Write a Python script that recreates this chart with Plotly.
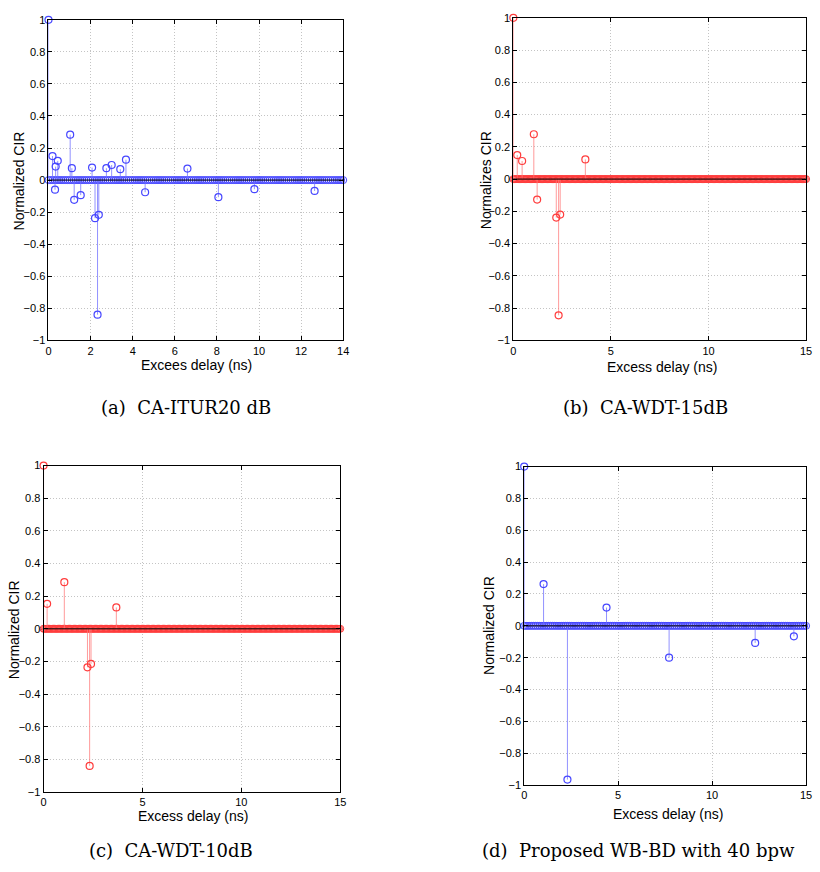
import plotly.graph_objects as go

W, H = 820, 872

# ---------------- data ----------------
# (a) CA-ITUR20 dB
a_delay = [0.0, 0.19, 0.31, 0.34, 0.44, 1.03, 1.11, 1.22, 1.53, 2.07, 2.21, 2.33,
           2.39, 2.75, 3.00, 3.41, 3.68, 4.59, 6.60, 8.07, 9.78, 12.64]
a_cir = [1.0, 0.150, -0.060, 0.084, 0.120, 0.283, 0.074, -0.123, -0.094, 0.078,
         -0.238, -0.840, -0.217, 0.074, 0.094, 0.068, 0.127, -0.076, 0.072,
         -0.107, -0.057, -0.068]

# (b) CA-WDT-15dB
b_delay = [0.0, 0.20, 0.45, 1.05, 1.22, 2.20, 2.32, 2.40, 3.69]
b_cir = [1.0, 0.149, 0.112, 0.278, -0.127, -0.239, -0.845, -0.220, 0.122]

# (c) CA-WDT-10dB
c_delay = [0.0, 0.18, 1.05, 2.22, 2.33, 2.40, 3.68]
c_cir = [1.0, 0.153, 0.286, -0.236, -0.840, -0.215, 0.131]

# (d) Proposed WB-BD with 40 bpw
d_delay = [0.0, 1.03, 2.30, 4.38, 7.71, 12.29, 14.35]
d_cir = [1.0, 0.262, -0.965, 0.115, -0.200, -0.107, -0.066]

# sampling grid of the (zero-valued) taps: (period ns, last delay ns)
a_grid = (0.1, 14.0)
b_grid = (0.0625, 15.0)
c_grid = (0.0625, 15.0)
d_grid = (0.1, 15.0)

y_ticks = [-1, -0.8, -0.6, -0.4, -0.2, 0, 0.2, 0.4, 0.6, 0.8, 1]
y_ticklabels = ["\u22121", "\u22120.8", "\u22120.6", "\u22120.4", "\u22120.2", "0",
                "0.2", "0.4", "0.6", "0.8", "1"]
a_xticks = [0, 2, 4, 6, 8, 10, 12, 14]
bcd_xticks = [0, 5, 10, 15]

captions = ["(a)  CA-ITUR20 dB", "(b)  CA-WDT-15dB", "(c)  CA-WDT-10dB",
            "(d)  Proposed WB-BD with 40 bpw"]
x_titles = ["Excees delay (ns)", "Excess delay (ns)", "Excess delay (ns)", "Excess delay (ns)"]
y_titles = ["Normalized CIR", "Normalizes CIR", "Normalized CIR", "Normalized CIR"]

# ---------------- layout geometry (pixels) ----------------
BLUE_M = "rgb(70,70,255)"
BLUE_S = "rgba(110,110,255,0.75)"
RED_M = "rgb(255,60,60)"
RED_S = "rgba(255,120,120,0.75)"

panels = [
    dict(delay=a_delay, cir=a_cir, grid=a_grid, xt=a_xticks, xr=[0, 14],
         box=(46, 344, 14, 339), mc=BLUE_M, sc=BLUE_S,
         yt=(16, 177), xtl=(196, 364), cap=(185, 407)),
    dict(delay=b_delay, cir=b_cir, grid=b_grid, xt=bcd_xticks, xr=[0, 15],
         box=(516, 812, 12, 339), mc=RED_M, sc=RED_S,
         yt=(488, 177), xtl=(666, 366), cap=(650, 407)),
    dict(delay=c_delay, cir=c_cir, grid=c_grid, xt=bcd_xticks, xr=[0, 15],
         box=(41, 341, 466, 797), mc=RED_M, sc=RED_S,
         yt=(11, 632), xtl=(192, 821), cap=(170, 856)),
    dict(delay=d_delay, cir=d_cir, grid=d_grid, xt=bcd_xticks, xr=[0, 15],
         box=(527, 812, 467, 790), mc=BLUE_M, sc=BLUE_S,
         yt=(492, 628), xtl=(672, 819), cap=(643, 856)),
]

TICK_FONT = dict(family="Liberation Sans Narrow, Arial Narrow, Liberation Sans, Arial",
                 size=11, color="black")
TITLE_FONT = dict(family="Liberation Sans Narrow, Arial Narrow, Liberation Sans, Arial",
                  size=14, color="black")
YTITLE_FONT = dict(family="Liberation Sans, Arial", size=14, color="black")
CAP_FONT = dict(family="DejaVu Serif, Liberation Serif, serif", size=18, color="black")

fig = go.Figure()
annotations = []
shapes = []

for i, p in enumerate(panels):
    k = "" if i == 0 else str(i + 1)
    xa, ya = "x" + k, "y" + k
    l, r, t, b = p["box"]

    # zero-valued taps on the sampling grid
    period, last = p["grid"]
    n = int(round(last / period)) + 1
    gx = [j * period for j in range(n)]
    gy = [0.0] * n
    fig.add_trace(go.Scatter(x=gx, y=gy, mode="markers", xaxis=xa, yaxis=ya,
                             marker=dict(symbol="circle-open", size=7, color=p["mc"],
                                         line=dict(width=1, color=p["mc"])),
                             showlegend=False, hoverinfo="skip", cliponaxis=False))

    # stems
    sx, sy = [], []
    for dx, v in zip(p["delay"], p["cir"]):
        sx += [dx, dx, None]
        sy += [0, v, None]
    fig.add_trace(go.Scatter(x=sx, y=sy, mode="lines", xaxis=xa, yaxis=ya,
                             line=dict(color=p["sc"], width=1),
                             showlegend=False, hoverinfo="skip"))
    # non-zero tap heads
    fig.add_trace(go.Scatter(x=p["delay"], y=p["cir"], mode="markers", xaxis=xa, yaxis=ya,
                             marker=dict(symbol="circle-open", size=7, color=p["mc"],
                                         line=dict(width=1.2, color=p["mc"])),
                             showlegend=False, hoverinfo="skip", cliponaxis=False))

    # black baseline at zero
    shapes.append(dict(type="line", xref=xa + " domain", yref=ya,
                       x0=0, x1=1, y0=0, y1=0, line=dict(color="black", width=1),
                       layer="above"))

    axis_common = dict(showline=True, linecolor="black", linewidth=1, mirror="ticks",
                       ticks="inside", ticklen=4, tickcolor="black",
                       showgrid=True, gridcolor="#c4c4c4", griddash="1px,2px", gridwidth=1,
                       zeroline=False, tickfont=TICK_FONT)
    fig.layout["xaxis" + k] = dict(axis_common, domain=[l / W, r / W], anchor=ya,
                                   range=p["xr"], tickmode="array", tickvals=p["xt"],
                                   ticktext=[str(v) for v in p["xt"]])
    fig.layout["yaxis" + k] = dict(axis_common, domain=[1 - b / H, 1 - t / H], anchor=xa,
                                   range=[-1, 1], tickmode="array", tickvals=y_ticks,
                                   ticktext=y_ticklabels)

    annotations.append(dict(text=y_titles[i], x=p["yt"][0] / W, y=1 - p["yt"][1] / H,
                            xref="paper", yref="paper", showarrow=False, textangle=-90,
                            xanchor="center", yanchor="middle", font=YTITLE_FONT))
    annotations.append(dict(text=x_titles[i], x=p["xtl"][0] / W, y=1 - p["xtl"][1] / H,
                            xref="paper", yref="paper", showarrow=False,
                            xanchor="center", yanchor="middle", font=TITLE_FONT))
    annotations.append(dict(text=captions[i], x=p["cap"][0] / W, y=1 - p["cap"][1] / H,
                            xref="paper", yref="paper", showarrow=False,
                            xanchor="center", yanchor="middle", font=CAP_FONT))

fig.update_layout(width=W, height=H, margin=dict(l=0, r=0, t=0, b=0),
                  paper_bgcolor="white", plot_bgcolor="white", hovermode=False,
                  annotations=annotations, shapes=shapes, showlegend=False)

# remove the browser's default 8px page margin so the figure sits at (0, 0)
fig.write_html("out.html", config={"displayModeBar": False, "staticPlot": True},
               post_script="document.body.style.margin='0';document.body.style.overflow='hidden';")
